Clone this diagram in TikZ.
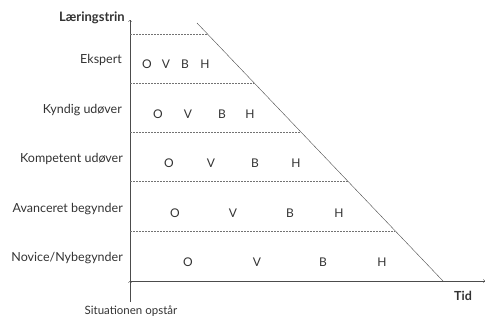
\documentclass[tikz,border=0pt]{standalone}
\usepackage{fontspec}
\setmainfont{Lato}
\usetikzlibrary{positioning}

\begin{document}
\begin{tikzpicture}[
    x=1pt, y=-1pt,
    axis/.style={->, thin, black!70},
    grid/.style={thin, black!55, dash pattern=on 2pt off 1pt},
    lvl/.style={
        anchor=east, inner sep=0pt,
        font=\fontsize{12.5}{14}\selectfont, text=black!80
    },
    ltr/.style={
        inner sep=0pt,
        font=\fontsize{12}{14}\selectfont, text=black!80
    }
]
\useasboundingbox (0,0) rectangle (486,320);

%% Axes
\coordinate (O) at (130,281);
\coordinate (ytop) at (130,20);
\coordinate (xend) at (485,281);
\coordinate (sit) at (130,302);
\coordinate (dtop) at (197,23);
\coordinate (dbot) at (443,281);

\draw[axis] (O) -- (ytop);
\draw[axis] (O) -- (xend);
\draw[axis] (sit) -- (O);
\draw[thin, black!70] (dtop) -- (dbot);

%% Dashed level lines (axis to diagonal)
\foreach \i/\y in {1/34,2/83,3/132,4/181,5/231}{
    \coordinate (a\i) at (130,\y);
    \coordinate (d\i) at ({197+(\y-23)/258*246},\y);
    \draw[grid] (a\i) -- (d\i);
}

%% Axis texts
\node[lvl, font=\fontsize{13}{15}\selectfont\bfseries] (title) at (125,18) {Læringstrin};
\node[ltr, font=\fontsize{12.5}{14}\selectfont\bfseries] (tid) at (463,296) {Tid};
\node[ltr, font=\fontsize{11.5}{14}\selectfont] (start) at (131,311) {Situationen opstår};

%% Level names
\node[lvl] (L1) at (122,60) {Ekspert};
\node[lvl] (L2) at (122,110) {Kyndig udøver};
\node[lvl] (L3) at (123,159) {Kompetent udøver};
\node[lvl] (L4) at (123,209) {Avanceret begynder};
\node[lvl] (L5) at (123,258) {Novice/Nybegynder};

%% O V B H per level
\foreach \i/\y/\o/\v/\b/\h in {1/64/147/166/185/205, 2/114/158/188/222/250,
        3/163/169/211/255/296, 4/213/175/233/290/339, 5/262/188/257/323/382}{
    \node[ltr] (O\i) at (\o,\y) {O};
    \node[ltr] (V\i) at (\v,\y) {V};
    \node[ltr] (B\i) at (\b,\y) {B};
    \node[ltr] (H\i) at (\h,\y) {H};
}

\end{tikzpicture}
\end{document}
